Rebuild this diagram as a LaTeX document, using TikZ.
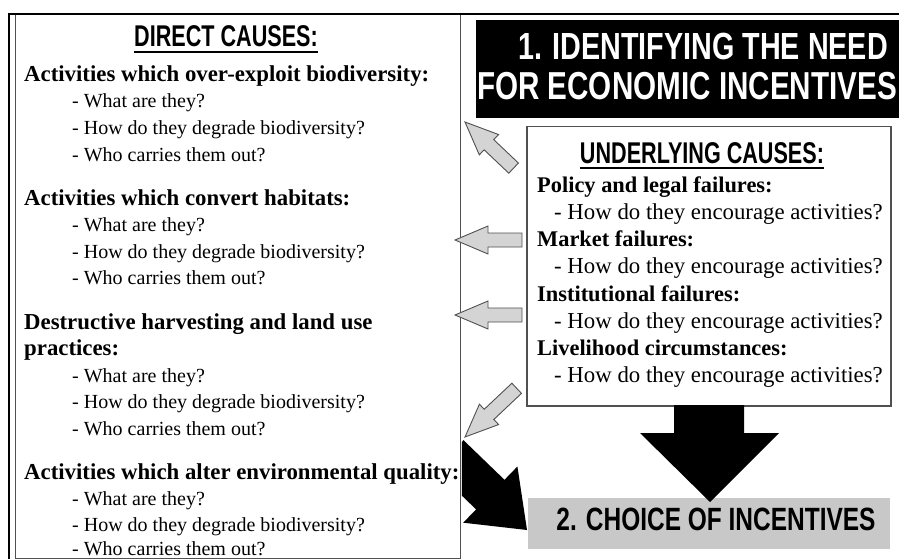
\documentclass[tikz,border=0pt]{standalone}
\usepackage{fontspec}
\setmainfont{Liberation Serif}
\newfontfamily\hd{Liberation Sans}[FakeStretch=0.72]
\newfontfamily\hdt{Liberation Sans}[FakeStretch=0.76]
\definecolor{arrowgray}{HTML}{D4D4D4}
\definecolor{edgegray}{HTML}{505050}
\definecolor{boxgray}{HTML}{C8C8C8}
\begin{document}
\begin{tikzpicture}[x=1pt,y=-1pt,
  lefthead/.style={inner sep=0,anchor=base west,font=\bfseries\fontsize{22.8}{26}\selectfont},
  leftitem/.style={inner sep=0,anchor=base west,font=\fontsize{20}{22}\selectfont},
  righthead/.style={inner sep=0,anchor=base west,font=\bfseries\fontsize{22.4}{26}\selectfont},
  rightitem/.style={inner sep=0,anchor=base west,font=\fontsize{22.8}{26}\selectfont},
  sechead/.style={inner sep=0,anchor=base,font=\hd\bfseries\fontsize{30}{32}\selectfont},
  titletext/.style={inner sep=0,anchor=base,text=white},
  grayarrow/.style={fill=arrowgray,draw=edgegray,line width=0.9pt,line join=miter},
  blackarrow/.style={fill=black,draw=none},
  framebox/.style={draw=edgegray,fill=white,inner sep=0,anchor=north west},
]
\useasboundingbox (0,0) rectangle (899,559);
\fill[white] (0,0) rectangle (899,559);

% boxes
\node[framebox,line width=1.2pt,minimum width=445pt,minimum height=544pt] (leftbox) at (15,14) {};
\node[fill=black,inner sep=0,anchor=north west,minimum width=430pt,minimum height=98pt] (titlebox) at (476,20) {};
\node[framebox,line width=1.5pt,minimum width=364pt,minimum height=279pt] (ubox) at (526,126) {};
\node[fill=boxgray,inner sep=0,anchor=north west,minimum width=362pt,minimum height=51pt] (cbox) at (528,498) {};

% outer frame
\draw[line width=2.5pt] (9,570) -- (9,14) -- (910,14);

% title
\node[titletext,font=\hdt\bfseries\fontsize{37.8}{40}\selectfont] (t1) at (703,60) {1. IDENTIFYING THE NEED};
\node[titletext,font=\hdt\bfseries\fontsize{39}{40}\selectfont] (t2) at (687,100) {FOR ECONOMIC INCENTIVES};

% left box text
\node[sechead] (dc) at (226,47) {DIRECT CAUSES:};
\draw[line width=2pt] ([yshift=-5pt]dc.base west) -- ([yshift=-5pt]dc.base east);
\node[lefthead] (a1) at (24,82) {Activities which over-exploit biodiversity:};
\node[leftitem] (a1q1) at (72,108) {- What are they?};
\node[leftitem] (a1q2) at (72,135) {- How do they degrade biodiversity?};
\node[leftitem] (a1q3) at (72,161) {- Who carries them out?};
\node[lefthead] (a2) at (24,205) {Activities which convert habitats:};
\node[leftitem] (a2q1) at (72,231) {- What are they?};
\node[leftitem] (a2q2) at (72,258) {- How do they degrade biodiversity?};
\node[leftitem] (a2q3) at (72,284) {- Who carries them out?};
\node[lefthead] (a3) at (24,329) {Destructive harvesting and land use};
\node[lefthead] (a3b) at (24,355) {practices:};
\node[leftitem] (a3q1) at (72,382) {- What are they?};
\node[leftitem] (a3q2) at (72,408) {- How do they degrade biodiversity?};
\node[leftitem] (a3q3) at (72,435) {- Who carries them out?};
\node[lefthead] (a4) at (24,479) {Activities which alter environmental quality:};
\node[leftitem] (a4q1) at (72,505) {- What are they?};
\node[leftitem] (a4q2) at (72,531) {- How do they degrade biodiversity?};
\node[leftitem] (a4q3) at (72,555) {- Who carries them out?};

% underlying box text
\node[sechead] (uc) at (702,163) {UNDERLYING CAUSES:};
\draw[line width=2pt] ([yshift=-5pt]uc.base west) -- ([yshift=-5pt]uc.base east);
\node[righthead] (b1) at (537,192) {Policy and legal failures:};
\node[rightitem] (b1q) at (554,219) {- How do they encourage activities?};
\node[righthead] (b2) at (537,246) {Market failures:};
\node[rightitem] (b2q) at (554,273) {- How do they encourage activities?};
\node[righthead] (b3) at (537,301) {Institutional failures:};
\node[rightitem] (b3q) at (554,328) {- How do they encourage activities?};
\node[righthead] (b4) at (537,355) {Livelihood circumstances:};
\node[rightitem] (b4q) at (554,382) {- How do they encourage activities?};

% choice box text
\node[inner sep=0,anchor=base,font=\hdt\bfseries\fontsize{32.2}{36}\selectfont] (ct) at (716,530) {2. CHOICE OF INCENTIVES};

% black arrows
\coordinate (dtop) at (710,405);
\begin{scope}[shift={(dtop)}]
\draw[blackarrow] (-36,0) -- (34,0) -- (34,28) -- (69,28) -- (0,97) -- (-70,28) -- (-36,28) -- cycle;
\end{scope}
\begin{scope}
\clip (leftbox.north east) ++(0.6pt,0) rectangle (899,559);
\draw[blackarrow] (527,530) -- (517.4,466.5) -- (504.5,479.8) -- (463.5,440.2) -- (435.1,469.8) -- (476.1,509.4) -- (463.2,522.7) -- cycle;
\end{scope}

% gray arrows
\coordinate (ga1) at (465,122);
\coordinate (ga2) at (455,240);
\coordinate (ga3) at (455,315);
\coordinate (ga4) at (465,437);
\begin{scope}[shift={(ga1)},rotate=-43.5]
\draw[grayarrow] (0,0) -- (33,-14) -- (33,-7) -- (67,-7) -- (67,7) -- (33,7) -- (33,14) -- cycle;
\end{scope}
\begin{scope}[shift={(ga2)}]
\draw[grayarrow] (0,0) -- (33,-14) -- (33,-7) -- (67,-7) -- (67,7) -- (33,7) -- (33,14) -- cycle;
\end{scope}
\begin{scope}[shift={(ga3)}]
\draw[grayarrow] (0,0) -- (33,-14) -- (33,-7) -- (67,-7) -- (67,7) -- (33,7) -- (33,14) -- cycle;
\end{scope}
\begin{scope}[shift={(ga4)},rotate=43.3]
\draw[grayarrow] (0,0) -- (33,-14) -- (33,-7) -- (71,-7) -- (71,7) -- (33,7) -- (33,14) -- cycle;
\end{scope}
\end{tikzpicture}
\end{document}
